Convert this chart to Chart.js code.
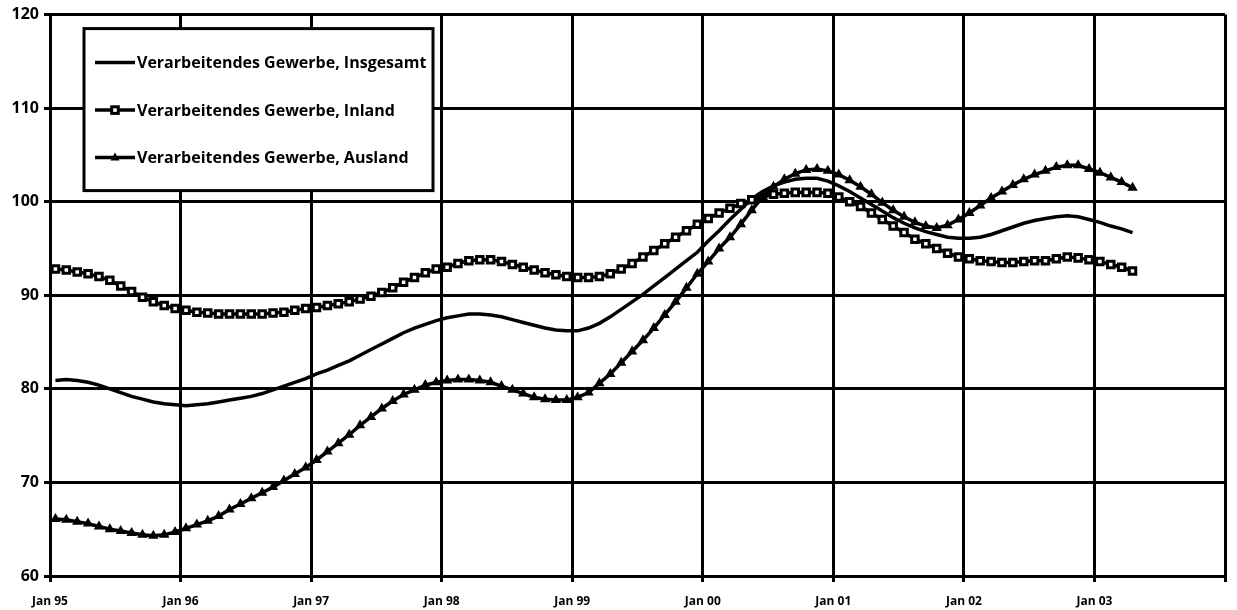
<!DOCTYPE html>
<html>
<head>
<meta charset="utf-8">
<script src="https://cdn.jsdelivr.net/npm/chart.js@4.4.1/dist/chart.umd.min.js"></script>
<style>
  html, body { margin: 0; padding: 0; background: #fff; }
  #wrap { width: 1237px; height: 610px; }
</style>
</head>
<body>
<div id="wrap"><canvas id="chart" width="1237" height="610"></canvas></div>
<script>
// --- Daten: Monatswerte Jan 95 .. Apr 03 ---
const yearLabels = ['Jan 95', 'Jan 96', 'Jan 97', 'Jan 98', 'Jan 99', 'Jan 00', 'Jan 01', 'Jan 02', 'Jan 03'];
const seriesNames = [
  'Verarbeitendes Gewerbe, Insgesamt',
  'Verarbeitendes Gewerbe, Inland',
  'Verarbeitendes Gewerbe, Ausland',
];

const insgesamt = [
  80.9, 81.0, 80.9, 80.7, 80.4, 80.0, 79.6, 79.2, 78.9, 78.6, 78.4, 78.3,
  78.2, 78.3, 78.4, 78.6, 78.8, 79.0, 79.2, 79.5, 79.9, 80.3, 80.7, 81.1,
  81.6, 82.0, 82.5, 83.0, 83.6, 84.2, 84.8, 85.4, 86.0, 86.5, 86.9, 87.3,
  87.6, 87.8, 88.0, 88.0, 87.9, 87.7, 87.4, 87.1, 86.8, 86.5, 86.3, 86.2,
  86.2, 86.5, 87.0, 87.7, 88.5, 89.3, 90.1, 91.0, 91.9, 92.8, 93.7, 94.6,
  95.8, 96.9, 98.1, 99.2, 100.3, 101.1, 101.7, 102.1, 102.4, 102.5, 102.5, 102.2,
  101.7, 101.1, 100.4, 99.7, 99.0, 98.3, 97.7, 97.2, 96.8, 96.5, 96.2, 96.1,
  96.1, 96.2, 96.5, 96.9, 97.3, 97.7, 98.0, 98.2, 98.4, 98.5, 98.4, 98.1,
  97.8, 97.4, 97.1, 96.7,
];

const inland = [
  92.8, 92.7, 92.5, 92.3, 92.0, 91.6, 91.0, 90.4, 89.8, 89.3, 88.9, 88.6,
  88.4, 88.2, 88.1, 88.0, 88.0, 88.0, 88.0, 88.0, 88.1, 88.2, 88.4, 88.6,
  88.7, 88.9, 89.1, 89.3, 89.6, 89.9, 90.3, 90.8, 91.4, 91.9, 92.4, 92.8,
  93.0, 93.4, 93.7, 93.8, 93.8, 93.6, 93.3, 93.0, 92.7, 92.4, 92.2, 92.0,
  91.9, 91.9, 92.0, 92.3, 92.8, 93.4, 94.1, 94.8, 95.5, 96.2, 96.9, 97.6,
  98.2, 98.8, 99.3, 99.8, 100.2, 100.5, 100.8, 100.9, 101.0, 101.0, 101.0, 100.9,
  100.5, 100.0, 99.5, 98.8, 98.1, 97.4, 96.7, 96.0, 95.5, 95.0, 94.5, 94.1,
  93.9, 93.7, 93.6, 93.5, 93.5, 93.6, 93.7, 93.7, 93.9, 94.1, 94.0, 93.8,
  93.6, 93.3, 93.0, 92.6,
];

const ausland = [
  66.1, 66.0, 65.8, 65.6, 65.3, 65.0, 64.8, 64.6, 64.4, 64.3, 64.4, 64.7,
  65.1, 65.5, 65.9, 66.4, 67.1, 67.7, 68.3, 68.9, 69.5, 70.2, 70.9, 71.6,
  72.4, 73.3, 74.2, 75.1, 76.1, 77.0, 77.9, 78.7, 79.4, 79.9, 80.4, 80.7,
  80.9, 81.0, 81.0, 80.9, 80.7, 80.3, 79.9, 79.5, 79.1, 78.9, 78.8, 78.8,
  79.1, 79.6, 80.6, 81.6, 82.8, 84.0, 85.2, 86.5, 87.9, 89.3, 90.8, 92.3,
  93.6, 95.0, 96.2, 97.6, 99.1, 100.5, 101.6, 102.4, 103.0, 103.4, 103.5, 103.3,
  102.9, 102.3, 101.6, 100.8, 99.9, 99.1, 98.4, 97.8, 97.4, 97.2, 97.5, 98.1,
  98.8, 99.6, 100.4, 101.1, 101.8, 102.4, 102.9, 103.3, 103.7, 103.9, 103.9, 103.5,
  103.1, 102.6, 102.1, 101.5,
];

const FONT = "'Open Sans', 'DejaVu Sans', sans-serif";
const INK = '#000';

// Monat i liegt in der Mitte seiner Kategorie
const toPoints = (arr) => arr.map((v, i) => ({ x: i + 0.5, y: v }));

// --- Legende innerhalb der Zeichenfläche (wie im Excel-Original) ---
const insideLegend = {
  id: 'insideLegend',
  afterDraw(chart) {
    const { ctx, chartArea } = chart;
    const x0 = chartArea.left + 34;
    const y0 = chartArea.top + 14;
    const w = 349, h = 162;
    ctx.save();
    ctx.fillStyle = '#fff';
    ctx.fillRect(x0, y0, w, h);
    ctx.lineWidth = 3;
    ctx.strokeStyle = INK;
    ctx.strokeRect(x0, y0, w, h);

    chart.data.datasets.forEach((ds, k) => {
      const y = y0 + 34 + k * 47.5;
      const lx1 = x0 + 11, lx2 = x0 + 51, mx = (lx1 + lx2) / 2;
      ctx.lineWidth = 3.5;
      ctx.strokeStyle = INK;
      ctx.beginPath();
      ctx.moveTo(lx1, y);
      ctx.lineTo(lx2, y);
      ctx.stroke();

      if (ds.pointStyle === 'rect') {
        ctx.fillStyle = '#fff';
        ctx.lineWidth = 3;
        ctx.fillRect(mx - 3.3, y - 3.3, 6.6, 6.6);
        ctx.strokeRect(mx - 3.3, y - 3.3, 6.6, 6.6);
      } else if (ds.pointStyle === 'triangle') {
        ctx.fillStyle = INK;
        ctx.beginPath();
        ctx.moveTo(mx, y - 5);
        ctx.lineTo(mx + 4.5, y + 3);
        ctx.lineTo(mx - 4.5, y + 3);
        ctx.closePath();
        ctx.fill();
      }

      ctx.fillStyle = INK;
      ctx.font = `bold 16px ${FONT}`;
      ctx.textBaseline = 'middle';
      ctx.textAlign = 'left';
      ctx.fillText(ds.label, lx2 + 2, y + 1);
    });
    ctx.restore();
  },
};

const ctx = document.getElementById('chart').getContext('2d');

new Chart(ctx, {
  type: 'line',
  data: {
    datasets: [
      {
        label: seriesNames[0],
        data: toPoints(insgesamt),
        borderColor: INK,
        borderWidth: 3.5,
        pointRadius: 0,
        tension: 0,
        order: 3,
      },
      {
        label: seriesNames[1],
        data: toPoints(inland),
        borderColor: INK,
        borderWidth: 3.5,
        pointStyle: 'rect',
        pointRadius: 4.6,
        pointBorderWidth: 3,
        pointBackgroundColor: '#fff',
        pointBorderColor: INK,
        tension: 0,
        order: 2,
      },
      {
        label: seriesNames[2],
        data: toPoints(ausland),
        borderColor: INK,
        borderWidth: 3.5,
        pointStyle: 'triangle',
        pointRadius: 4.5,
        pointBorderWidth: 1.5,
        pointBackgroundColor: INK,
        pointBorderColor: INK,
        tension: 0,
        order: 1,
      },
    ],
  },
  options: {
    responsive: false,
    animation: false,
    layout: { padding: { top: 14, right: 2, left: 0, bottom: 0 } },
    plugins: {
      legend: { display: false },
      tooltip: { enabled: false },
    },
    scales: {
      x: {
        type: 'linear',
        min: 0,
        max: 108,
        afterFit: (scale) => { scale.height = 34; },
        grid: { color: INK, lineWidth: 3, tickLength: 6 },
        border: { color: INK, width: 3 },
        ticks: {
          stepSize: 12,
          autoSkip: false,
          maxRotation: 0,
          padding: 12,
          color: INK,
          font: { family: FONT, size: 12, weight: 'bold' },
          callback: (val) => yearLabels[val / 12] || '',
        },
      },
      y: {
        min: 60,
        max: 120,
        afterFit: (scale) => { scale.width = 50; },
        grid: { color: INK, lineWidth: 3, tickLength: 6 },
        border: { color: INK, width: 3 },
        ticks: {
          stepSize: 10,
          padding: 5,
          color: INK,
          font: { family: FONT, size: 16, weight: 'bold' },
        },
      },
    },
  },
  plugins: [insideLegend],
});
</script>
</body>
</html>
